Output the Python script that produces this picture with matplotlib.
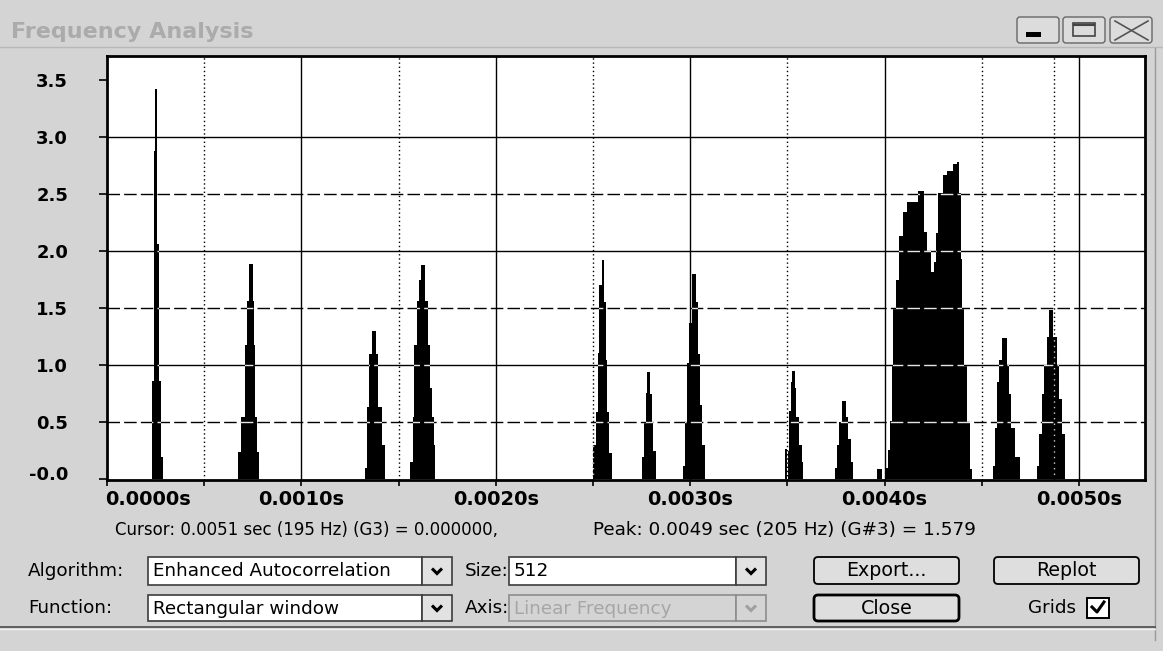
import numpy as np
import matplotlib
matplotlib.use("Agg")
import matplotlib.pyplot as plt
import matplotlib.transforms as mtransforms
from matplotlib.patches import Rectangle, FancyBboxPatch
from matplotlib.lines import Line2D
from matplotlib.ticker import FuncFormatter

# ---------------- data ----------------
# lag in milliseconds where a new step level starts, and the level from there on
lag_ms = [0.000,
          0.231, 0.242, 0.247, 0.255, 0.257, 0.267, 0.280, 0.290,
          0.675, 0.688, 0.710, 0.719, 0.732, 0.753, 0.756, 0.761, 0.770, 0.782,
          1.327, 1.339, 1.350, 1.361, 1.382, 1.396, 1.413, 1.430,
          1.559, 1.572, 1.581, 1.593, 1.603, 1.615, 1.636, 1.650, 1.662, 1.670, 1.682, 1.687,
          2.502, 2.515, 2.527, 2.533, 2.545, 2.558, 2.565, 2.573, 2.584, 2.596,
          2.750, 2.762, 2.773, 2.780, 2.793, 2.802, 2.810, 2.824,
          2.965, 2.973, 2.985, 2.995, 3.008, 3.030, 3.042, 3.051, 3.063, 3.076,
          3.488, 3.500,
          3.505, 3.510, 3.518, 3.525, 3.539, 3.547, 3.561, 3.573, 3.582,
          3.745, 3.757, 3.767, 3.779, 3.801, 3.813, 3.826, 3.839,
          3.963, 3.985,
          4.002, 4.019, 4.028, 4.036, 4.045, 4.059, 4.076, 4.093, 4.114, 4.173, 4.204,
          4.216, 4.237, 4.254, 4.264, 4.276, 4.299, 4.323, 4.353, 4.371, 4.383, 4.391,
          4.398, 4.408, 4.422, 4.439, 4.448,
          4.559, 4.568, 4.580, 4.590, 4.602, 4.628, 4.641, 4.653, 4.671, 4.696,
          4.782, 4.794, 4.808, 4.820, 4.834, 4.847, 4.868, 4.885, 4.897, 4.911, 4.928,
          5.340]
amplitude = [0.00,
             0.86, 2.88, 3.42, 2.88, 2.06, 0.86, 0.20, 0.00,
             0.24, 0.55, 1.18, 1.56, 1.89, 1.56, 1.18, 0.55, 0.24, 0.00,
             0.10, 0.63, 1.10, 1.30, 1.10, 0.63, 0.30, 0.00,
             0.15, 0.55, 1.18, 1.56, 1.75, 1.88, 1.56, 1.18, 0.80, 0.55, 0.30, 0.00,
             0.30, 0.59, 1.11, 1.70, 1.92, 1.55, 1.05, 0.59, 0.23, 0.00,
             0.20, 0.49, 0.76, 0.94, 0.75, 0.50, 0.25, 0.00,
             0.12, 0.50, 1.02, 1.37, 1.80, 1.55, 1.10, 0.65, 0.30, 0.00,
             0.27, 0.00,
             0.25, 0.60, 0.85, 0.95, 0.80, 0.55, 0.30, 0.15, 0.00,
             0.10, 0.30, 0.50, 0.69, 0.55, 0.35, 0.15, 0.00,
             0.09, 0.00,
             0.10, 0.26, 0.51, 0.99, 1.49, 1.75, 2.13, 2.34, 2.43, 2.53, 2.17,
             2.00, 1.82, 1.90, 2.16, 2.51, 2.67, 2.70, 2.76, 2.78, 2.51, 1.93,
             1.49, 0.99, 0.50, 0.09, 0.00,
             0.12, 0.45, 0.85, 1.05, 1.24, 1.00, 0.75, 0.45, 0.20, 0.00,
             0.12, 0.40, 0.75, 1.00, 1.25, 1.48, 1.25, 1.00, 0.70, 0.40, 0.00,
             0.00]

x_major_ticks = [0.0000, 0.0010, 0.0020, 0.0030, 0.0040, 0.0050]
x_minor_ticks = [0.0005, 0.0015, 0.0025, 0.0035, 0.0045]
y_ticks = [0.0, 0.5, 1.0, 1.5, 2.0, 2.5, 3.0, 3.5]
y_tick_labels = ["-0.0", "0.5", "1.0", "1.5", "2.0", "2.5", "3.0", "3.5"]
y_major_grid = [1.0, 2.0, 3.0]
y_minor_grid = [0.5, 1.5, 2.5]
peak_lag_s = 0.00487

window_title = "Frequency Analysis"
cursor_text = "Cursor: 0.0051 sec (195 Hz) (G3) = 0.000000,"
peak_text = "Peak: 0.0049 sec (205 Hz) (G#3) = 1.579"
algorithm_choice = "Enhanced Autocorrelation"
function_choice = "Rectangular window"
size_choice = "512"
axis_choice = "Linear Frequency"

# ---------------- figure ----------------
W, H = 1163, 651
BG = '#d4d4d4'
fig = plt.figure(figsize=(W / 100, H / 100), dpi=100)
fig.patch.set_facecolor(BG)
# pixel coordinates measured from the top-left corner
pix = mtransforms.Affine2D().scale(1.0 / W, -1.0 / H).translate(0, 1) + fig.transFigure

L, R, T, B = 107, 1145, 56, 480
ax = fig.add_axes([L / W, 1 - B / H, (R - L) / W, (B - T) / H])
ax.set_facecolor('white')

lag_s = np.array(lag_ms) / 1000.0
amp = np.array(amplitude)

# grid beneath the data (black)
for x in x_major_ticks[1:]:
    ax.axvline(x, color='black', lw=1.0, zorder=1)
for x in x_minor_ticks:
    ax.axvline(x, color='black', lw=1.0, ls=(0, (1, 2)), zorder=1)
ax.axvline(peak_lag_s, color='black', lw=1.0, ls=(0, (1, 2)), zorder=1)
for y in y_major_grid:
    ax.axhline(y, color='black', lw=1.0, zorder=1)
for y in y_minor_grid:
    ax.axhline(y, color='black', lw=1.0, ls=(0, (9, 3)), zorder=1)

poly = ax.fill_between(lag_s, amp, 0, step='post', color='black', lw=0, zorder=3)

# grid drawn over the data shows as light lines inside the black area
clip = poly.get_paths()[0]
for y in y_major_grid + y_minor_grid:
    ln = ax.axhline(y, color='white', lw=1.0, ls=(0, (9, 3)), zorder=4, alpha=0.9)
    ln.set_clip_path(clip, ax.transData)
for x in x_minor_ticks + [peak_lag_s]:
    ln = ax.axvline(x, color='white', lw=1.0, ls=(0, (1, 3)), zorder=4, alpha=0.8)
    ln.set_clip_path(clip, ax.transData)

ax.set_xlim(0, 0.00534)
ax.set_ylim(-0.005, 3.708)

ax.set_xticks(x_major_ticks)
ax.set_xticks(x_minor_ticks, minor=True)
ax.xaxis.set_major_formatter(FuncFormatter(lambda v, p: f"{v:.4f}s"))
ax.set_yticks(y_ticks)
ax.set_yticklabels(y_tick_labels)
ax.tick_params(axis='x', which='both', direction='out', length=4, width=1.2, pad=3,
               colors='black')
ax.tick_params(axis='y', which='both', direction='out', length=6, width=1.2, pad=22)
for lab in ax.get_xticklabels():
    lab.set_fontweight('bold')
    lab.set_fontsize(14)
    lab.set_fontfamily('DejaVu Sans')
for lab in ax.get_yticklabels():
    lab.set_fontweight('bold')
    lab.set_fontsize(13)
    lab.set_fontfamily('DejaVu Sans')
ax.get_xticklabels()[0].set_horizontalalignment('left')
lab0 = ax.get_xticklabels()[0]
lab0.set_transform(lab0.get_transform() +
                   mtransforms.ScaledTranslation(-2 / 100, 0, fig.dpi_scale_trans))
# bottom label is lifted to stay clear of the axis corner
lab0 = ax.get_yticklabels()[0]
lab0.set_transform(lab0.get_transform() +
                   mtransforms.ScaledTranslation(0, 6 / 100, fig.dpi_scale_trans))
for s in ax.spines.values():
    s.set_linewidth(2)
    s.set_color('black')

# ---------------- window chrome ----------------
fig.text(11, 32, window_title, transform=pix, fontsize=16, fontweight='bold',
         color='#ababab', va='center', ha='left', family='DejaVu Sans')
fig.add_artist(Line2D([0, W], [47, 47], transform=pix, color='#b8b8b8', lw=1))

# title bar buttons
for x0 in (1017, 1063, 1110):
    fig.add_artist(FancyBboxPatch((x0, 17), 42, 26, boxstyle='round,pad=0,rounding_size=3',
                                  transform=pix, facecolor='#dcdcdc', edgecolor='#666666', lw=1))
fig.add_artist(Rectangle((1026, 32), 15, 5, transform=pix, facecolor='black', edgecolor='none'))
fig.add_artist(Rectangle((1073, 23), 22, 13, transform=pix, facecolor='none', edgecolor='#444444', lw=1.2))
fig.add_artist(Line2D([1074, 1094], [25, 25], transform=pix, color='#444444', lw=1.5))
fig.add_artist(Line2D([1115, 1148], [21, 40], transform=pix, color='#555555', lw=1.2))
fig.add_artist(Line2D([1115, 1148], [40, 21], transform=pix, color='#555555', lw=1.2))

# right window edge
fig.add_artist(Line2D([1155, 1155], [48, 640], transform=pix, color='#9a9a9a', lw=1))

# ---------------- status text ----------------
UI_FONT = 'DejaVu Sans'
UI_SIZE = 13.2
fig.text(115, 530, cursor_text, transform=pix, fontsize=12, va='center', ha='left',
         family=UI_FONT, color='black')
fig.text(593, 530, peak_text, transform=pix, fontsize=13.2, va='center', ha='left',
         family=UI_FONT, color='black')

# ---------------- controls ----------------
def chevron(cx, cy, color='black'):
    fig.add_artist(Line2D([cx - 5, cx, cx + 5], [cy - 2.5, cy + 2.5, cy - 2.5], transform=pix,
                          color=color, lw=2.2, solid_capstyle='butt', solid_joinstyle='miter'))


def combo(x0, x1, y0, y1, text, enabled=True):
    bx = x1 - 30
    face = 'white' if enabled else BG
    edge = '#3c3c3c' if enabled else '#8c8c8c'
    fig.add_artist(Rectangle((x0, y0), bx - x0, y1 - y0, transform=pix,
                             facecolor=face, edgecolor=edge, lw=1.2))
    fig.add_artist(Rectangle((bx, y0), 30, y1 - y0, transform=pix,
                             facecolor='#e2e2e2' if enabled else BG, edgecolor=edge, lw=1.2))
    chevron(bx + 15, (y0 + y1) / 2, 'black' if enabled else '#a0a0a0')
    fig.text(x0 + 5, (y0 + y1) / 2 + 0.5, text, transform=pix, fontsize=UI_SIZE, va='center',
             ha='left', family=UI_FONT, color='black' if enabled else '#a6a6a6')


def button(x0, x1, y0, y1, text, default=False):
    fig.add_artist(FancyBboxPatch((x0, y0), x1 - x0, y1 - y0,
                                  boxstyle='round,pad=0,rounding_size=4', transform=pix,
                                  facecolor='#dedede', edgecolor='black',
                                  lw=2.0 if default else 1.3))
    fig.text((x0 + x1) / 2, (y0 + y1) / 2 + 0.5, text, transform=pix, fontsize=UI_SIZE + 0.5,
             va='center', ha='center', family=UI_FONT, color='black')


row1, row2 = 571, 608
fig.text(28, row1, "Algorithm:", transform=pix, fontsize=UI_SIZE, va='center', ha='left', family=UI_FONT)
fig.text(28, row2, "Function:", transform=pix, fontsize=UI_SIZE, va='center', ha='left', family=UI_FONT)
fig.text(465, row1, "Size:", transform=pix, fontsize=UI_SIZE, va='center', ha='left', family=UI_FONT)
fig.text(465, row2, "Axis:", transform=pix, fontsize=UI_SIZE, va='center', ha='left', family=UI_FONT)

combo(148, 452, 557, 585, algorithm_choice)
combo(148, 452, 595, 621, function_choice)
combo(509, 766, 557, 585, size_choice)
combo(509, 766, 595, 621, axis_choice, enabled=False)

button(814, 959, 557, 584, "Export...")
button(994, 1139, 557, 584, "Replot")
button(814, 959, 595, 621, "Close", default=True)

fig.text(1028, row2, "Grids", transform=pix, fontsize=UI_SIZE, va='center', ha='left', family=UI_FONT)
fig.add_artist(Rectangle((1087, 598), 22, 20, transform=pix, facecolor='white',
                         edgecolor='black', lw=1.4))
fig.add_artist(Line2D([1092, 1097, 1104], [607, 612, 602], transform=pix, color='black', lw=2.2))

# separator above the status area
fig.add_artist(Line2D([0, 1155], [627, 627], transform=pix, color='#4a4a4a', lw=1.2))
fig.add_artist(Line2D([0, 1155], [628.5, 628.5], transform=pix, color='#f0f0f0', lw=1))

fig.savefig('out.png', dpi=100, facecolor=fig.get_facecolor())
